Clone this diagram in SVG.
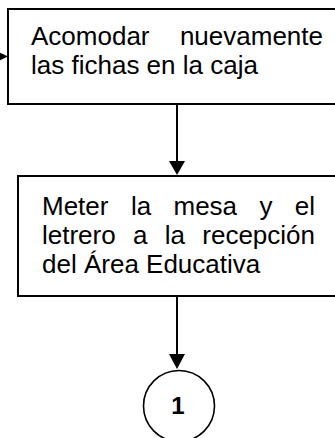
<svg xmlns="http://www.w3.org/2000/svg" width="335" height="438" viewBox="0 0 335 438">
<style>
.box{fill:#fff;stroke:#000;stroke-width:2}
.t{font-family:"Liberation Sans",Arial,sans-serif;font-size:26px;fill:#000}
.c{stroke:#000;stroke-width:2;fill:none}
.ah{fill:#000}
</style>
<rect width="335" height="438" fill="#fff"/>
<g id="connectors">
<polygon class="ah" points="-6,50 8,56.5 -6,63"/>
<line class="c" x1="177" y1="105" x2="177" y2="163"/>
<polygon class="ah" points="169,161 185,161 177,175"/>
<line class="c" x1="177" y1="297" x2="177" y2="356"/>
<polygon class="ah" points="169,354 185,354 177,369"/>
</g>
<g id="node1">
<rect class="box" x="8" y="9" width="340" height="95"/>
<text class="t"><tspan x="31" y="45">Acomodar</tspan><tspan x="323" y="45" text-anchor="end">nuevamente</tspan></text>
<text class="t" x="31" y="74">las fichas en la caja</text>
</g>
<g id="node2">
<rect class="box" x="18" y="176" width="330" height="120"/>
<text class="t"><tspan x="42" y="215">Meter</tspan><tspan x="130.9" y="215">la</tspan><tspan x="173.5" y="215">mesa</tspan><tspan x="259.5" y="215">y</tspan><tspan x="315" y="215" text-anchor="end">el</tspan></text>
<text class="t"><tspan x="42" y="244">letrero</tspan><tspan x="133" y="244">a</tspan><tspan x="164.8" y="244">la</tspan><tspan x="315" y="244" text-anchor="end">recepción</tspan></text>
<text class="t" x="42" y="273">del Área Educativa</text>
</g>
<g id="node3">
<circle cx="179" cy="406" r="35.5" fill="#fff" stroke="#000" stroke-width="1.6"/>
<text x="178" y="414" text-anchor="middle" font-family="Liberation Sans,Arial,sans-serif" font-size="24" font-weight="bold">1</text>
</g>
</svg>
